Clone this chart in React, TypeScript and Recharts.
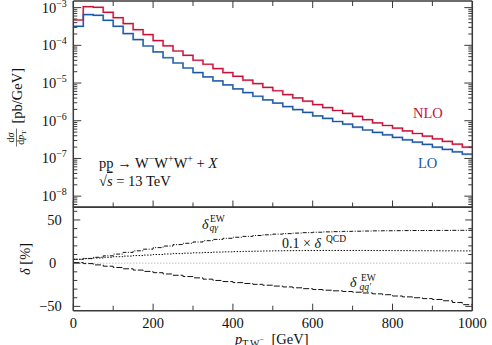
import React from 'react';
import { LineChart, Line, XAxis, YAxis, ReferenceLine } from 'recharts';

// bin edges in GeV (25 GeV bins)
const binEdges = [0, 25, 50, 75, 100, 125, 150, 175, 200, 225, 250, 275, 300, 325, 350, 375, 400, 425, 450, 475, 500,
  525, 550, 575, 600, 625, 650, 675, 700, 725, 750, 775, 800, 825, 850, 875, 900, 925, 950, 975, 1000];

// dσ/dpT [pb/GeV]
const nloValues = [4.70e-4, 1.06e-3, 1.02e-3, 7.51e-4, 5.43e-4, 3.77e-4, 2.61e-4, 1.93e-4, 1.34e-4, 9.73e-5,
  7.08e-5, 5.45e-5, 4.02e-5, 3.15e-5, 2.42e-5, 1.90e-5, 1.51e-5, 1.19e-5, 9.70e-6, 7.64e-6,
  6.25e-6, 4.96e-6, 4.03e-6, 3.30e-6, 2.69e-6, 2.24e-6, 1.87e-6, 1.56e-6, 1.30e-6, 1.07e-6,
  8.77e-7, 7.48e-7, 6.35e-7, 5.38e-7, 4.59e-7, 3.90e-7, 3.31e-7, 2.82e-7, 2.39e-7, 1.99e-7];
const loValues = [3.20e-4, 6.53e-4, 6.25e-4, 4.61e-4, 3.20e-4, 2.05e-4, 1.42e-4, 9.62e-5, 6.67e-5, 4.68e-5,
  3.40e-5, 2.51e-5, 1.90e-5, 1.45e-5, 1.14e-5, 8.91e-6, 6.98e-6, 5.60e-6, 4.47e-6, 3.56e-6,
  2.95e-6, 2.38e-6, 1.98e-6, 1.66e-6, 1.34e-6, 1.15e-6, 9.55e-7, 8.11e-7, 6.75e-7, 5.69e-7,
  4.89e-7, 4.22e-7, 3.60e-7, 3.11e-7, 2.70e-7, 2.35e-7, 1.99e-7, 1.73e-7, 1.50e-7, 1.30e-7];

// relative corrections δ [%]
const deltaQgammaEW = [4.5, 5.5, 6.8, 8.5, 10.5, 12.5, 14.3, 16.2, 18, 19.8,
  21.5, 23, 24.5, 26, 27.5, 28.8, 30, 31, 32, 32.8,
  33.6, 34.2, 34.8, 35.3, 35.8, 36.2, 36.5, 36.8, 37, 37.2,
  37.4, 37.5, 37.6, 37.7, 37.8, 37.8, 37.9, 37.9, 38, 38];
const deltaQCDTimes01 = [4.5, 5.2, 6.0, 6.8, 7.5, 8.2, 8.8, 9.4, 10, 10.6,
  11.1, 11.6, 12.0, 12.4, 12.8, 13.1, 13.4, 13.7, 13.9, 14.1,
  14.3, 14.4, 14.5, 14.6, 14.6, 14.7, 14.7, 14.7, 14.7, 14.7,
  14.6, 14.6, 14.5, 14.5, 14.4, 14.4, 14.3, 14.3, 14.2, 14.2];
const deltaQQEW = [0.7, -0.5, -2, -3.5, -5, -6.5, -8, -9.5, -11, -12.5,
  -14, -15.5, -17, -18.5, -20, -21.3, -22.5, -23.5, -24.5, -25.5,
  -26.5, -27.5, -28.5, -29.5, -30.5, -31.3, -32, -32.8, -33.6, -34.5,
  -35.5, -36.5, -38, -39, -40, -41, -42, -43.5, -45.5, -48];

// ticks
const xTicks = [0, 100, 200, 300, 400, 500, 600, 700, 800, 900, 1000];
const xLabelTicks = [0, 200, 400, 600, 800, 1000];
const logDecades = [1e-9, 1e-8, 1e-7, 1e-6, 1e-5, 1e-4, 1e-3];
const logMultipliers = [1, 2, 3, 4, 5, 6, 7, 8, 9];
const logDomain = [5e-9, 1.5e-3];
const deltaTicks = [-50, -40, -30, -20, -10, 0, 10, 20, 30, 40, 50, 60];
const deltaLabelTicks = [-50, 0, 50];
const deltaDomain = [-55, 65];

const logTicks = logDecades
  .flatMap((d) => logMultipliers.map((m) => m * d))
  .filter((v) => v >= logDomain[0] * 0.999 && v <= logDomain[1]);

const rows = binEdges.map((x, i) => {
  const k = Math.min(i, nloValues.length - 1);
  return { x, nlo: nloValues[k], lo: loValues[k], qg: deltaQgammaEW[k], qcd: deltaQCDTimes01[k], qq: deltaQQEW[k] };
});

const FONT = "'Liberation Serif', 'DejaVu Serif', serif";
const FRAME = '#3a3a3a';
const RED = '#c8103a';
const BLUE = '#1c56a6';
const RED_L = '#eba3b2';
const BLUE_L = '#9dbbe0';
const MINUS = '\u2212';
const TS = { fontFamily: FONT } as React.CSSProperties;

const isDecade = (v: number) => Math.abs(Math.log10(v) - Math.round(Math.log10(v))) < 1e-6;

const LogTickLeft = (p: any) => {
  const { x, y, payload } = p;
  const major = isDecade(payload.value);
  const e = Math.round(Math.log10(payload.value));
  return (
    <g>
      <line x1={x} x2={x + (major ? 8 : 4)} y1={y} y2={y} stroke={FRAME} strokeWidth={1} />
      {major && (
        <text x={x - 6.5} y={y + 5} textAnchor="end" style={TS} fontSize={14.5} fill="#111">
          10<tspan dy={-6} fontSize={10}>{MINUS + String(-e)}</tspan>
        </text>
      )}
    </g>
  );
};

const LogTickRight = (p: any) => {
  const { x, y, payload } = p;
  const major = isDecade(payload.value);
  return <line x1={x - (major ? 8 : 4)} x2={x} y1={y} y2={y} stroke={FRAME} strokeWidth={1} />;
};

const DeltaTickLeft = (p: any) => {
  const { x, y, payload } = p;
  const v = payload.value;
  const major = deltaLabelTicks.includes(v);
  const label = v < 0 ? MINUS + String(-v) : String(v);
  return (
    <g>
      <line x1={x} x2={x + (major ? 7 : 4)} y1={y} y2={y} stroke={FRAME} strokeWidth={1} />
      {major && (
        <text x={v === 0 ? x - 17 : x - 11.5} y={y + 4.8} textAnchor="end" style={TS} fontSize={14.5} fill="#111">
          {label}
        </text>
      )}
    </g>
  );
};

const DeltaTickRight = (p: any) => {
  const { x, y, payload } = p;
  const major = deltaLabelTicks.includes(payload.value);
  return <line x1={x - (major ? 7 : 4)} x2={x} y1={y} y2={y} stroke={FRAME} strokeWidth={1} />;
};

const XTickUp = (withLabel: boolean) => (p: any) => {
  const { x, y, payload } = p;
  const major = xLabelTicks.includes(payload.value);
  return (
    <g>
      <line x1={x} x2={x} y1={y} y2={y - (major ? 7 : 5)} stroke={FRAME} strokeWidth={1} />
      {withLabel && major && (
        <text x={x} y={y + 17.6} textAnchor="middle" style={TS} fontSize={14.5} fill="#111">
          {payload.value}
        </text>
      )}
    </g>
  );
};

const XTickDown = (p: any) => {
  const { x, y, payload } = p;
  const major = xLabelTicks.includes(payload.value);
  return <line x1={x} x2={x} y1={y} y2={y + (major ? 7 : 5)} stroke={FRAME} strokeWidth={1} />;
};

const NoTick = () => <g />;

const axisLine = { stroke: FRAME, strokeWidth: 1.5 };

export default function App() {
  return (
    <div style={{ position: 'absolute', left: 0, top: 0, width: 492, height: 345, background: '#fff', overflow: 'hidden' }}>
      <div style={{ position: 'absolute', left: 0, top: -0.5 }}>
        <LineChart width={492} height={208.5} data={rows} margin={{ top: 0, right: 18.7, bottom: 0, left: 72.3 }}>
          <XAxis xAxisId="b" dataKey="x" type="number" domain={[0, 1000]} ticks={xTicks} interval={0} height={1}
            tickSize={0} tickMargin={0} tick={XTickUp(false)} tickLine={false} axisLine={axisLine} allowDataOverflow />
          <XAxis xAxisId="t" orientation="top" dataKey="x" type="number" domain={[0, 1000]} ticks={xTicks} interval={0} height={1}
            tickSize={0} tickMargin={0} tick={XTickDown} tickLine={false} axisLine={axisLine} allowDataOverflow />
          <YAxis yAxisId="l" type="number" scale="log" domain={logDomain} ticks={logTicks} interval={0} width={1}
            tickSize={0} tickMargin={0} tick={LogTickLeft} tickLine={false} axisLine={axisLine} allowDataOverflow />
          <YAxis yAxisId="r" orientation="right" type="number" scale="log" domain={logDomain} ticks={logTicks} interval={0} width={1}
            tickSize={0} tickMargin={0} tick={LogTickRight} tickLine={false} axisLine={axisLine} allowDataOverflow />
          <Line xAxisId="t" yAxisId="r" dataKey="nlo" type="stepAfter" stroke={RED_L} strokeWidth={2} dot={false} isAnimationActive={false} />
          <Line xAxisId="t" yAxisId="r" dataKey="lo" type="stepAfter" stroke={BLUE_L} strokeWidth={2} dot={false} isAnimationActive={false} />
          <Line xAxisId="b" yAxisId="l" dataKey="nlo" type="stepAfter" stroke={RED} strokeWidth={1.2} dot={false} isAnimationActive={false} />
          <Line xAxisId="b" yAxisId="l" dataKey="lo" type="stepAfter" stroke={BLUE} strokeWidth={1.2} dot={false} isAnimationActive={false} />
        </LineChart>
      </div>
      <div style={{ position: 'absolute', left: 0, top: 200 }}>
        <LineChart width={492} height={145} data={rows} margin={{ top: 6, right: 18.7, bottom: 33.3, left: 72.3 }}>
          <XAxis xAxisId="b" dataKey="x" type="number" domain={[0, 1000]} ticks={xTicks} interval={0} height={1}
            tickSize={0} tickMargin={0} tick={XTickUp(true)} tickLine={false} axisLine={axisLine} allowDataOverflow />
          <XAxis xAxisId="t" orientation="top" dataKey="x" type="number" domain={[0, 1000]} ticks={xTicks} interval={0} height={1}
            tickSize={0} tickMargin={0} tick={NoTick} tickLine={false} axisLine={axisLine} allowDataOverflow />
          <YAxis yAxisId="l" type="number" domain={deltaDomain} ticks={deltaTicks} interval={0} width={1}
            tickSize={0} tickMargin={0} tick={DeltaTickLeft} tickLine={false} axisLine={axisLine} allowDataOverflow />
          <YAxis yAxisId="r" orientation="right" type="number" domain={deltaDomain} ticks={deltaTicks} interval={0} width={1}
            tickSize={0} tickMargin={0} tick={DeltaTickRight} tickLine={false} axisLine={axisLine} allowDataOverflow />
          <ReferenceLine xAxisId="b" yAxisId="l" y={0} stroke="#888" strokeWidth={0.8} strokeDasharray="1 2" />
          <Line xAxisId="b" yAxisId="l" dataKey="qg" type="stepAfter" stroke="#111" strokeWidth={1} strokeDasharray="4 1.5 1 1.5" dot={false} isAnimationActive={false} />
          <Line xAxisId="t" yAxisId="r" dataKey="qcd" type="stepAfter" stroke="#111" strokeWidth={1} strokeDasharray="1.5 1.5" dot={false} isAnimationActive={false} />
          <Line xAxisId="b" yAxisId="l" dataKey="qq" type="stepAfter" stroke="#111" strokeWidth={1} strokeDasharray="6 2" dot={false} isAnimationActive={false} />
        </LineChart>
      </div>
      <svg width={492} height={345} style={{ position: 'absolute', left: 0, top: 0, pointerEvents: 'none', fontFamily: FONT }} fill="#111">
        {/* y title top */}
        <g transform="translate(22,104.5) rotate(-90)">
          <text x={-33} y={-8.5} textAnchor="middle" fontSize={10} style={TS}>d<tspan fontStyle="italic">σ</tspan></text>
          <line x1={-42} x2={-24} y1={-5.5} y2={-5.5} stroke="#111" strokeWidth={0.6} />
          <text x={-33} y={1.5} textAnchor="middle" fontSize={10} style={TS}>d<tspan fontStyle="italic">p</tspan><tspan fontSize={7} dy={2}>T</tspan></text>
          <text x={-19} y={0} fontSize={14.5} style={TS}>[pb/GeV]</text>
        </g>
        {/* y title bottom */}
        <g transform="translate(29.5,259) rotate(-90)">
          <text x={0} y={0} textAnchor="middle" fontSize={14.5} style={TS}><tspan fontStyle="italic">δ</tspan> [%]</text>
        </g>
        {/* x title */}
        <text x={235} y={343.5} fontSize={14.5} style={TS}>
          <tspan fontStyle="italic">p</tspan><tspan fontSize={10} dy={3}>T,W</tspan><tspan fontSize={7.5} dy={-5}>{MINUS}</tspan><tspan dy={2}> </tspan><tspan dx={4}>[GeV]</tspan>
        </text>
        {/* process */}
        <text x={99} y={168} fontSize={14.5} style={TS}>
          pp → W<tspan fontSize={10} dy={-6}>{MINUS}</tspan><tspan dy={6}>W</tspan><tspan fontSize={10} dy={-6}>+</tspan><tspan dy={6}>W</tspan><tspan fontSize={10} dy={-6}>+</tspan><tspan dy={6}> + </tspan><tspan fontStyle="italic">X</tspan>
        </text>
        <text x={99} y={185.5} fontSize={14.5} style={TS}>
          √<tspan fontStyle="italic" textDecoration="overline">s</tspan> = 13 TeV
        </text>
        {/* series labels */}
        <text x={413} y={118} fontSize={14.5} fill={RED} style={TS}>NLO</text>
        <text x={418} y={168} fontSize={14.5} fill={BLUE} style={TS}>LO</text>
        {/* delta labels */}
        <text x={202} y={228.5} fontSize={14} fontStyle="italic" style={TS}>δ</text>
        <text x={210} y={221.7} fontSize={9.5} style={TS}>EW</text>
        <text x={209.5} y={231} fontSize={9.5} fontStyle="italic" style={TS}>qγ</text>
        <text x={282} y={248.3} fontSize={14} style={TS}>0.1 × <tspan fontStyle="italic">δ</tspan></text>
        <text x={326} y={241.5} fontSize={9.5} style={TS}>QCD</text>
        <text x={350} y={286.5} fontSize={14} fontStyle="italic" style={TS}>δ</text>
        <text x={361} y={280.5} fontSize={9.5} style={TS}>EW</text>
        <text x={359.5} y={290} fontSize={9.5} fontStyle="italic" style={TS}>qq′</text>
      </svg>
    </div>
  );
}
